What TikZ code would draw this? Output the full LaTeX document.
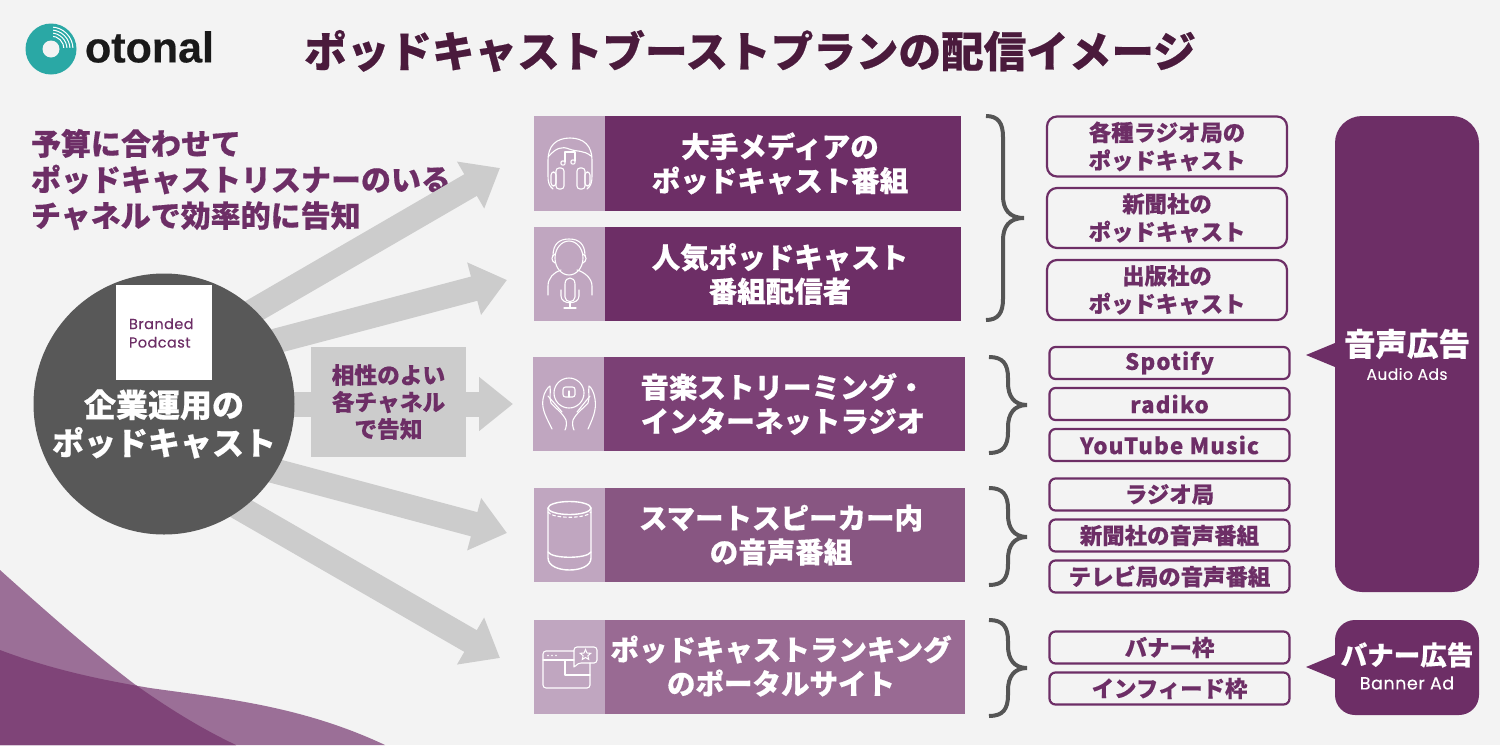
\documentclass[tikz,border=0pt]{standalone}
\usepackage{fontspec}
\usetikzlibrary{arrows.meta,calc,shapes.geometric}
\setmainfont{Noto Sans CJK JP}[BoldFeatures={FakeBold=0.5}]
\newfontfamily\jost{Poppins}[LetterSpace=3,FakeBold=0.3]
\newfontfamily\chiplatin{Noto Sans CJK JP}[LetterSpace=5,BoldFeatures={FakeBold=0.1}]
\newfontfamily\logofont{Liberation Sans}[BoldFeatures={FakeBold=0.4}]
\definecolor{bgc}{HTML}{F3F3F3}
\definecolor{titlec}{HTML}{4A1A3C}
\definecolor{plum}{HTML}{6D2E66}
\definecolor{rowc}{HTML}{7B4075}
\definecolor{rowd}{HTML}{885682}
\definecolor{rowe}{HTML}{996A93}
\definecolor{lightp}{HTML}{C0A6C0}
\definecolor{wavec}{HTML}{9B6F97}
\definecolor{wavedk}{HTML}{7F4478}
\definecolor{grayc}{HTML}{CCCCCC}
\definecolor{hubc}{HTML}{585858}
\definecolor{bracec}{HTML}{555555}
\definecolor{teal}{HTML}{2AA8A5}
\newcommand{\fsz}[2]{\fontsize{#1}{#2}\selectfont\bfseries}
\tikzset{
  txt/.style={inner sep=0pt,outer sep=0pt,align=center},
  fatarrow/.style={draw=grayc,line width=25pt,-{Triangle[length=34pt,width=52pt]}},
  bandtxt/.style={txt,text=white,font=\fsz{28.5}{34}},
  chip/.style={draw=plum,line width=2.2pt,fill=bgc,rounded corners=6pt,inner sep=0pt,minimum width=240pt,minimum height=32pt,rectangle,text=plum,font=\fsz{22.4}{28}},
  latinchip/.style={chip,font=\chiplatin\fsz{22.4}{28}},
  bigchip/.style={chip,rounded corners=10pt,minimum height=60pt,align=center},
  bracestyle/.style={draw=bracec,line width=4pt},
  icon/.style={draw=white,line width=1.1pt,line cap=round,line join=round},
}
\newcommand{\curlybrace}[6]{% xstart ytop xspine xtip ymid ybot
  \draw[bracestyle] (#1,#2) .. controls ({#3-5},#2) and (#3,{#2+7}) .. (#3,{#2+21})
    -- (#3,{#5-22}) .. controls (#3,{#5-9}) and ({#3+6},#5) .. (#4,#5)
    .. controls ({#3+6},#5) and (#3,{#5+9}) .. (#3,{#5+22})
    -- (#3,{#6-21}) .. controls (#3,{#6-7}) and ({#3-5},#6) .. (#1,#6);}
\begin{document}
\begin{tikzpicture}[x=1pt,y=-1pt]
\useasboundingbox (0,0) rectangle (1500,745);
\fill[bgc] (0,0) rectangle (1500,745);
% waves
\begin{scope}
\clip (0,0) rectangle (1500,745);
\path[fill=wavec] (0,570) .. controls (50,615) and (90,650) .. (133,683) .. controls (165,706) and (200,728) .. (236,745) -- (0,745) -- cycle;
\path[fill=wavec] (0,650) .. controls (45,667) and (90,678) .. (150,688) .. controls (220,698) and (300,705) .. (385,745) -- (0,745) -- cycle;
\begin{scope}
\clip (0,570) .. controls (50,615) and (90,650) .. (133,683) .. controls (165,706) and (200,728) .. (236,745) -- (0,745) -- cycle;
\path[fill=wavedk] (0,650) .. controls (45,667) and (90,678) .. (150,688) .. controls (220,698) and (300,705) .. (385,745) -- (0,745) -- cycle;
\end{scope}
\end{scope}
% logo
\node[circle,fill=teal,minimum size=51pt,inner sep=0pt] (logo) at (51,49) {};
\node[circle,fill=bgc,minimum size=17pt,inner sep=0pt] (logohole) at (51,49) {};
\begin{scope}
\clip (53,22) rectangle (78,47);
\foreach \r in {13,16,19,22} \draw[white,line width=1pt] (51,49) circle[radius=\r];
\end{scope}
\node[txt,anchor=west,font=\logofont\fsz{43}{50},text=black!90] (logotext) at (85,47) {otonal};
% title
\node[txt,text=titlec,font=\fsz{42.6}{50}] (title) at (750,51) {ポッドキャストブーストプランの配信イメージ};
% subhead
\node[txt,align=left,anchor=north west,text=plum,font=\fsz{30}{36}] (sub) at (31,129) {予算に合わせて\\ポッドキャストリスナーのいる\\チャネルで効率的に告知};
% arrows
\coordinate (s1) at (200,342); \coordinate (t1) at (500,168);
\coordinate (s2) at (200,361); \coordinate (t2) at (507,280);
\coordinate (s3) at (200,404); \coordinate (t3) at (513,404);
\coordinate (s4) at (200,451); \coordinate (t4) at (507,533);
\coordinate (s5) at (200,485); \coordinate (t5) at (500,658);
\foreach \i in {1,...,5} \draw[fatarrow] (s\i) -- (t\i);
% hub
\node[circle,fill=hubc,minimum size=261pt,inner sep=0pt] (hub) at (164,404) {};
\node[fill=white,minimum width=96pt,minimum height=95pt,inner sep=0pt] (sq) at (164,332.5) {};
\node[txt,align=left,anchor=west,text=plum,font=\jost\fontsize{14.5}{18.5}\selectfont] (brand) at (129,333) {Branded\\Podcast};
\node[txt,text=white,font=\fsz{32}{38}] (hubtxt) at (164,424) {企業運用の\\ポッドキャスト};
% gray label
\node[fill=grayc,minimum width=155pt,minimum height=110pt,inner sep=0pt,text=plum,align=center,font=\fsz{22.7}{27}] (aff) at (388.5,402) {相性のよい\\各チャネル\\で告知};
% bands
\foreach \nm/\xa/\xb/\xc/\ya/\yb/\col in {a/534/605/961/116/211/plum,b/534/605/961/227/321/plum,c/533/604/965/357/451/rowc,d/534/605/965/488/582/rowd,e/534/605/965/620/714/rowe}{
  \fill[lightp] (\xa,\ya) rectangle (\xb,\yb);
  \fill[\col] (\xb,\ya) rectangle (\xc,\yb);
}
\node[bandtxt] (ta) at (780,163.5) {大手メディアの\\ポッドキャスト番組};
\node[bandtxt] (tb) at (780,274) {人気ポッドキャスト\\番組配信者};
\node[bandtxt] (tc) at (783,404) {音楽ストリーミング・\\インターネットラジオ};
\node[bandtxt] (td) at (781,535) {スマートスピーカー内\\の音声番組};
\node[bandtxt] (te) at (781,666) {ポッドキャストランキング\\のポータルサイト};
% icon 1 headphones
\draw[icon] (553,189) .. controls (549,186) and (548,182) .. (548,176) -- (548,160) .. controls (548,146) and (556,138) .. (570,138) .. controls (584,138) and (592,146) .. (592,160) -- (592,176) .. controls (592,182) and (591,186) .. (587,189);
\draw[icon] (549,156) .. controls (556,148) and (562,146) .. (569,149) .. controls (577,152) and (584,150) .. (591,156);
\draw[icon,rounded corners=3pt] (551,172) rectangle (556,186);
\draw[icon,rounded corners=3pt] (556,168) rectangle (564,189);
\draw[icon,rounded corners=3pt] (577,168) rectangle (585,189);
\draw[icon,rounded corners=3pt] (585,172) rectangle (590,186);
\draw[icon] (565,162) -- (565,152) -- (575,152) -- (575,161);
\draw[icon] (563,163) circle[radius=2.2];
\draw[icon] (573,162) circle[radius=2.2];
% icon 2 presenter
\draw[icon] (569,258) ellipse[x radius=14,y radius=17];
\draw[icon] (553,256) .. controls (553,244) and (559,239) .. (569,239) .. controls (579,239) and (585,244) .. (585,256);
\draw[icon] (555,254) .. controls (551,256) and (551,261) .. (555,263);
\draw[icon] (583,254) .. controls (587,256) and (587,261) .. (583,263);
\draw[icon] (548,295) -- (548,286) .. controls (548,278) and (554,272) .. (561,270);
\draw[icon] (592,295) -- (592,286) .. controls (592,278) and (584,272) .. (577,270);
\draw[icon] (565,297) -- (565,284) .. controls (565,276) and (575,276) .. (575,284) -- (575,297) .. controls (575,303) and (565,303) .. (565,297);
\draw[icon] (561,290) -- (561,296) .. controls (561,305) and (579,305) .. (579,296) -- (579,290);
\draw[icon] (570,302) -- (570,308);
\draw[icon] (564,308) -- (576,308);
% icon 3 hands
\draw[icon] (569,393) circle[radius=15];
\draw[icon,rounded corners=2.5pt] (563,387) rectangle (575,397);
\draw[icon] (569,391) -- (569,397);
\draw[icon] (552,429) .. controls (548,420) and (541,410) .. (543,399) .. controls (544,392) and (548,387) .. (550,386) .. controls (551,392) and (549,398) .. (551,403) .. controls (555,408) and (562,412) .. (566,420) .. controls (567,424) and (566,428) .. (565,430);
\draw[icon] (548,396) -- (562,412);
\draw[icon] (588,429) .. controls (592,420) and (597,410) .. (595,399) .. controls (594,392) and (591,387) .. (589,386) .. controls (588,392) and (590,398) .. (588,403) .. controls (584,408) and (577,412) .. (573,420) .. controls (572,424) and (573,428) .. (574,430);
\draw[icon] (590,396) -- (577,412);
% icon 4 speaker
\draw[icon,line width=1.4pt] (569.5,508) ellipse[x radius=21.5,y radius=6.5];
\draw[icon,line width=1.4pt] (548,508) -- (548,558) .. controls (548,574) and (591,574) .. (591,558) -- (591,508);
\draw[icon,line width=1.4pt] (548,552) .. controls (552,559) and (587,559) .. (591,552);
\draw[icon,line width=1.1pt,dash pattern=on 3pt off 2.5pt] (548,512) .. controls (552,519) and (587,519) .. (591,512);
% icon 5 window
\draw[icon,rounded corners=3pt] (574,651) -- (543,651) -- (543,688) -- (590,688) -- (590,663);
\draw[icon] (543,660) -- (574,660);
\draw[icon] (565,660) -- (565,675) -- (590,675);
\fill[white] (548,655.5) circle[radius=0.9] (552,655.5) circle[radius=0.9] (556,655.5) circle[radius=0.9];
\draw[icon,rounded corners=3pt] (574,664) -- (574,647) -- (597,647) -- (597,663) -- (578,663) -- (574,668) -- cycle;
\node[star,star points=5,star point ratio=2.2,draw=white,line width=1pt,inner sep=0pt,minimum size=11pt] (st) at (585.5,655) {};
% braces
\curlybrace{986}{116}{1003}{1024}{218}{320}
\curlybrace{989}{357}{1008}{1027}{405}{453}
\curlybrace{989}{488}{1008}{1027}{537}{585}
\curlybrace{989}{620}{1008}{1027}{668}{716}
% chips
\node[bigchip] (c1) at (1167,146.5) {各種ラジオ局の\\ポッドキャスト};
\node[bigchip] (c2) at (1167,218) {新聞社の\\ポッドキャスト};
\node[bigchip] (c3) at (1167,290) {出版社の\\ポッドキャスト};
\node[latinchip] (c4) at (1169.5,363) {Spotify};
\node[latinchip] (c5) at (1169.5,404) {radiko};
\node[latinchip] (c6) at (1169.5,445) {YouTube Music};
\node[chip] (c7) at (1169.5,494.5) {ラジオ局};
\node[chip] (c8) at (1169.5,535.5) {新聞社の音声番組};
\node[chip] (c9) at (1169.5,576.5) {テレビ局の音声番組};
\node[chip] (c10) at (1169.5,647.5) {バナー枠};
\node[chip] (c11) at (1169.5,688.5) {インフィード枠};
% ad panels
\fill[plum] (1335,343) -- (1306,355) -- (1335,367) -- cycle;
\fill[plum,rounded corners=27pt] (1335,116) rectangle (1479,592);
\fill[plum] (1335,655) -- (1306,667) -- (1335,679) -- cycle;
\fill[plum,rounded corners=20pt] (1335,620) rectangle (1479,715);
\node[txt,text=white,font=\fsz{31.5}{36}] (ad1) at (1407,344) {音声広告};
\node[txt,text=white,font=\jost\fontsize{15.5}{18}\selectfont] (ad1e) at (1407,374) {Audio Ads};
\node[txt,text=white,font=\fsz{26.5}{32}] (ad2) at (1407,655) {バナー広告};
\node[txt,text=white,font=\jost\fontsize{17.5}{20}\selectfont] (ad2e) at (1407,683) {Banner Ad};
\end{tikzpicture}
\end{document}
